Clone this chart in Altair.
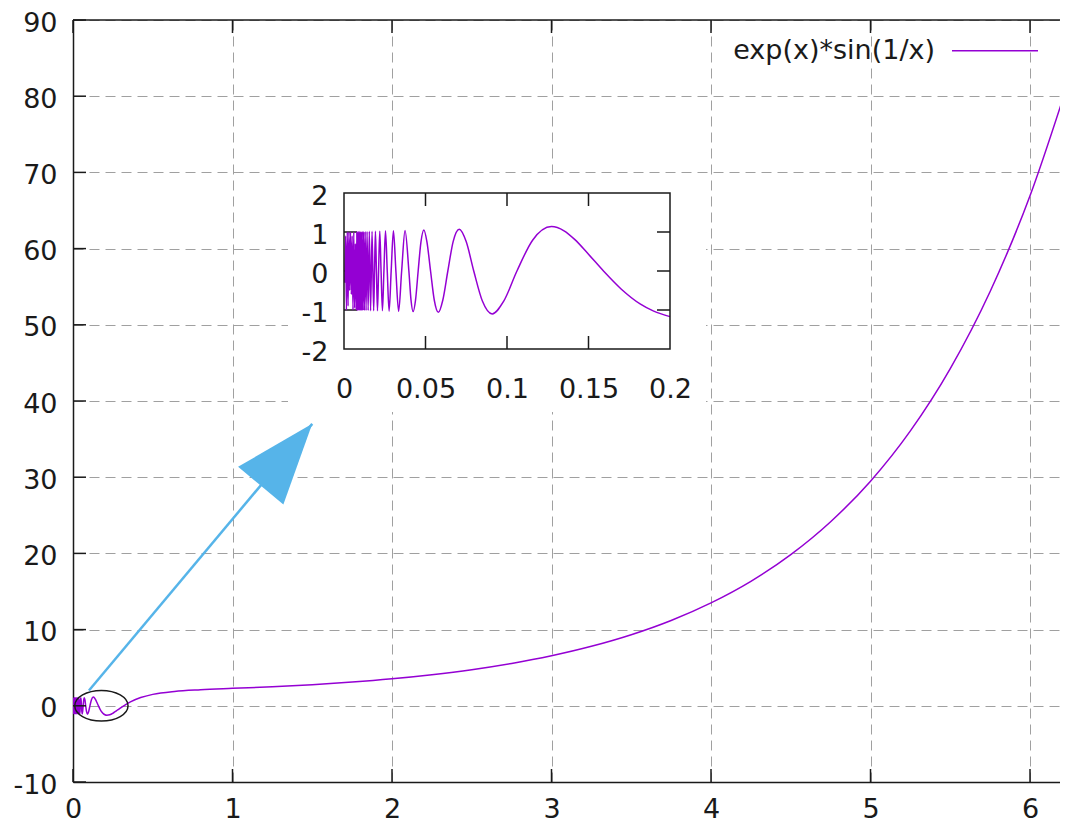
import altair as alt
import pandas as pd

# ---------------- values ----------------
# densely oscillating part close to x = 0 (aliased block in the inset)
dense_x = [0.0005, 0.0010, 0.0015, 0.0020, 0.0025, 0.0030, 0.0035, 0.0040,
           0.0045, 0.0050, 0.0055, 0.0060, 0.0065, 0.0070, 0.0075]
dense_y = [-0.3, 0.9, -1.0, 1.0, -0.9, 1.0, -0.5, 1.0,
           -0.6, 0.9, -1.0, 1.0, -0.95, 0.7, -1.0]

# peaks and troughs of the fast oscillation
fast_x = [0.00786, 0.00806, 0.00827, 0.00849, 0.00872, 0.00897, 0.00923, 0.00950,
          0.00979, 0.01011, 0.01044, 0.01079, 0.01117, 0.01158, 0.01201, 0.01248,
          0.01299, 0.01354, 0.01415, 0.01481, 0.01553, 0.01632, 0.01721]
fast_y = [1.01, -1.01, 1.01, -1.01, 1.01, -1.01, 1.01, -1.01,
          1.01, -1.01, 1.01, -1.01, 1.01, -1.01, 1.01, -1.01,
          1.01, -1.01, 1.01, -1.01, 1.02, -1.02, 1.02]

# slower waves of the inset
wave_x = [0.01819, 0.01872, 0.01929, 0.01989, 0.02054, 0.02122, 0.02195, 0.02274,
          0.02358, 0.02449, 0.02546, 0.02653, 0.02768, 0.02894, 0.03032, 0.03183,
          0.03351, 0.03537, 0.03745, 0.0398, 0.0411, 0.0424, 0.0439, 0.0455,
          0.0472, 0.0490, 0.0509, 0.0531, 0.0554, 0.0579, 0.0606, 0.0637,
          0.0670, 0.0707, 0.0749, 0.0796, 0.0849, 0.0909, 0.0979, 0.1061,
          0.1157, 0.1273, 0.135, 0.1415, 0.15, 0.1592, 0.17, 0.1819, 0.19, 0.20]
wave_y = [-1.02, 0.0, 1.02, 0.0, -1.02, 0.0, 1.02, 0.0,
          -1.02, 0.0, 1.03, 0.0, -1.03, 0.0, 1.03, 0.0,
          -1.03, 0.0, 1.04, 0.0, -0.74, -1.04, -0.74, 0.0,
          0.74, 1.05, 0.74, 0.0, -0.75, -1.06, -0.75, 0.0,
          0.76, 1.07, 0.76, 0.0, -0.77, -1.10, -0.78, 0.0,
          0.79, 1.14, 1.03, 0.81, 0.43, 0.0, -0.46, -0.85, -1.03, -1.17]

# the rest of the main curve
tail_x = [0.2122, 0.23, 0.2546, 0.28, 0.3183, 0.36, 0.4244, 0.5, 0.6366, 0.8,
          1.0, 1.25, 1.5, 1.75, 2.0, 2.25, 2.5, 2.75, 3.0, 3.25, 3.5, 3.75,
          4.0, 4.25, 4.5, 4.75, 5.0, 5.25, 5.5, 5.75, 6.0, 6.25]
tail_y = [-1.24, -1.18, -0.91, -0.55, 0.0, 0.51, 1.08, 1.50, 1.89, 2.11,
          2.29, 2.50, 2.77, 3.11, 3.54, 4.08, 4.74, 5.56, 6.57, 7.81, 9.33, 11.20,
          13.51, 16.34, 19.84, 24.16, 29.48, 36.08, 44.25, 54.37, 66.93, 82.53]

series_name = ["exp(x)*sin(1/x)"]

main_x_domain = [0, 6.188]
main_y_domain = [-10, 90]
main_x_ticks = [0, 1, 2, 3, 4, 5, 6]
main_y_ticks = [-10, 0, 10, 20, 30, 40, 50, 60, 70, 80, 90]

inset_x_domain = [0, 0.2]
inset_y_domain = [-2, 2]
inset_x_ticks = [0, 0.05, 0.1, 0.15, 0.2]
inset_y_ticks = [-2, -1, 0, 1, 2]

arrow_start = [0.1, 2]
arrow_end = [1.5, 37]
ellipse_center = [0.178, 0]

# ---------------- styling ----------------
PURPLE = "#9400D3"
BLUE = "#56B4E9"
INK = "#1a1a1a"
GRID = "#a0a0a0"
FONT = "DejaVu Sans"
FS = 27

W, H = 987, 762
IN_L, IN_R, IN_T, IN_B = 271, 597, 173, 329   # inset box inside the plot area (px)

ELLIPSE = "M -1 0 A 1 0.575 0 1 0 1 0 A 1 0.575 0 1 0 -1 0 Z"
HEAD = "M 0 0 L -0.366 1 L 0.366 1 Z"

curve_df = pd.DataFrame({"x": dense_x + fast_x + wave_x + tail_x,
                         "y": dense_y + fast_y + wave_y + tail_y})

label_kw = dict(labelFont=FONT, labelFontSize=FS, labelColor=INK,
                labelExpr="'' + datum.value", labelFlush=False, labelOverlap=False,
                title=None, ticks=False, tickSize=0)


def xs():
    return alt.Scale(domain=main_x_domain, nice=False, zero=False)


def ys():
    return alt.Scale(domain=main_y_domain, nice=False, zero=False)


def ixs():
    return alt.Scale(domain=inset_x_domain, range=[IN_L, IN_R], nice=False, zero=False)


def iys():
    return alt.Scale(domain=inset_y_domain, range=[IN_B, IN_T], nice=False, zero=False)


def X(f, **k):
    return alt.X(f, scale=xs(), axis=None, **k)


def Y(f, **k):
    return alt.Y(f, scale=ys(), axis=None, **k)


def IX(f, **k):
    return alt.X(f, scale=ixs(), axis=None, **k)


def IY(f, **k):
    return alt.Y(f, scale=iys(), axis=None, **k)


# ---------------- main plot ----------------
ax_main_x = alt.Axis(orient="bottom", values=main_x_ticks, grid=True, gridDash=[10, 6],
                     gridColor=GRID, gridWidth=1, domain=True, domainColor=INK,
                     domainWidth=1.5, labelPadding=14, **label_kw)
ax_main_y = alt.Axis(orient="left", values=main_y_ticks, grid=True, gridDash=[10, 6],
                     gridColor=GRID, gridWidth=1, domain=True, domainColor=INK,
                     domainWidth=1.5, labelPadding=16, labelOffset=3, **label_kw)

curve = alt.Chart(curve_df).mark_line(
    color=PURPLE, strokeWidth=1.5, interpolate="monotone", clip=True
).encode(x=alt.X("x:Q", scale=xs(), axis=ax_main_x),
         y=alt.Y("y:Q", scale=ys(), axis=ax_main_y))

ellipse = alt.Chart(pd.DataFrame({"x": [ellipse_center[0]], "y": [ellipse_center[1]]})).mark_point(
    shape=ELLIPSE, size=2840, filled=False, color=INK, strokeWidth=1.5, opacity=1
).encode(x=X("x:Q"), y=Y("y:Q"))

arrow_df = pd.DataFrame({"x": [arrow_start[0]], "y": [arrow_start[1]],
                         "x2": [arrow_end[0]], "y2": [arrow_end[1]]})
arrow_line = alt.Chart(arrow_df).mark_rule(color=BLUE, strokeWidth=2.5).encode(
    x=X("x:Q"), y=Y("y:Q"), x2="x2:Q", y2="y2:Q")
arrow_head = alt.Chart(arrow_df).mark_point(
    shape=HEAD, size=25921, angle=39.8, filled=True, color=BLUE, opacity=1, strokeWidth=0
).encode(x=X("x2:Q"), y=Y("y2:Q"))

xt_df = pd.DataFrame({"t": main_x_ticks, "lo": main_y_domain[0], "hi": main_y_domain[1]})
yt_df = pd.DataFrame({"t": main_y_ticks, "lo": main_x_domain[0]})
tick_style = dict(color=INK, size=13, thickness=1.5, opacity=1)

bottom_ticks = alt.Chart(xt_df).mark_tick(orient="vertical", yOffset=-6.5, **tick_style).encode(
    x=X("t:Q"), y=Y("lo:Q"))
top_ticks = alt.Chart(xt_df).mark_tick(orient="vertical", yOffset=6.5, **tick_style).encode(
    x=X("t:Q"), y=Y("hi:Q"))
left_ticks = alt.Chart(yt_df).mark_tick(orient="horizontal", xOffset=6.5, **tick_style).encode(
    x=X("lo:Q"), y=Y("t:Q"))

top_border = alt.Chart(pd.DataFrame({"x": [main_x_domain[0]], "x2": [main_x_domain[1]],
                                     "y": [main_y_domain[1]]})).mark_rule(
    color=INK, strokeWidth=1.5).encode(x=X("x:Q"), x2="x2:Q", y=Y("y:Q"))

legend_df = pd.DataFrame({"name": series_name})
legend_text = alt.Chart(legend_df).mark_text(
    align="right", baseline="alphabetic", font=FONT, fontSize=FS, color=INK
).encode(x=alt.value(862), y=alt.value(39), text="name:N")
legend_line = alt.Chart(legend_df).mark_rule(color=PURPLE, strokeWidth=1.5).encode(
    x=alt.value(879), x2=alt.value(965), y=alt.value(30.7))

# ---------------- inset ----------------
ax_in_x = alt.Axis(orient="bottom", offset=-(H - IN_B), values=inset_x_ticks, grid=False,
                   domain=False, labelPadding=27, zindex=1, **label_kw)
ax_in_y = alt.Axis(orient="left", offset=-IN_L, values=inset_y_ticks, grid=False,
                   domain=False, labelPadding=16, labelOffset=3, zindex=1, **label_kw)

clear = alt.Chart(legend_df).mark_rect(color="white", opacity=1).encode(
    x=alt.value(IN_L - 56), x2=alt.value(IN_R + 36), y=alt.value(IN_T - 17), y2=alt.value(IN_B + 63))

inset_curve = alt.Chart(curve_df).transform_filter(
    f"datum.x <= {inset_x_domain[1]}"
).mark_line(color=PURPLE, strokeWidth=1.5, interpolate="monotone").encode(
    x=alt.X("x:Q", scale=ixs(), axis=ax_in_x),
    y=alt.Y("y:Q", scale=iys(), axis=ax_in_y))

box_df = pd.DataFrame({"x0": [inset_x_domain[0]], "x1": [inset_x_domain[1]],
                       "y0": [inset_y_domain[0]], "y1": [inset_y_domain[1]]})
box = alt.Chart(box_df).mark_rect(fillOpacity=0, stroke=INK, strokeWidth=1.5).encode(
    x=IX("x0:Q"), x2="x1:Q", y=IY("y0:Q"), y2="y1:Q")

ixt_df = pd.DataFrame({"t": inset_x_ticks[1:-1], "lo": inset_y_domain[0], "hi": inset_y_domain[1]})
iyt_df = pd.DataFrame({"t": inset_y_ticks[1:-1], "lo": inset_x_domain[0], "hi": inset_x_domain[1]})

in_bottom = alt.Chart(ixt_df).mark_tick(orient="vertical", yOffset=-6.5, **tick_style).encode(
    x=IX("t:Q"), y=IY("lo:Q"))
in_top = alt.Chart(ixt_df).mark_tick(orient="vertical", yOffset=6.5, **tick_style).encode(
    x=IX("t:Q"), y=IY("hi:Q"))
in_left = alt.Chart(iyt_df).mark_tick(orient="horizontal", xOffset=6.5, **tick_style).encode(
    x=IX("lo:Q"), y=IY("t:Q"))
in_right = alt.Chart(iyt_df).mark_tick(orient="horizontal", xOffset=-6.5, **tick_style).encode(
    x=IX("hi:Q"), y=IY("t:Q"))

chart = alt.layer(
    curve, ellipse, arrow_line, arrow_head, bottom_ticks, top_ticks,
    left_ticks, top_border, legend_text, legend_line,
    clear, in_bottom, in_top, in_left, in_right, inset_curve, box,
).resolve_scale(
    x="independent", y="independent"
).properties(
    width=W, height=H,
    padding={"left": 65, "top": 12, "right": 0, "bottom": 42},
    autosize=alt.AutoSizeParams(type="none"),
    background="white",
).configure_view(stroke=None)

chart.save("out.html", embed_options={"renderer": "svg", "actions": False})
